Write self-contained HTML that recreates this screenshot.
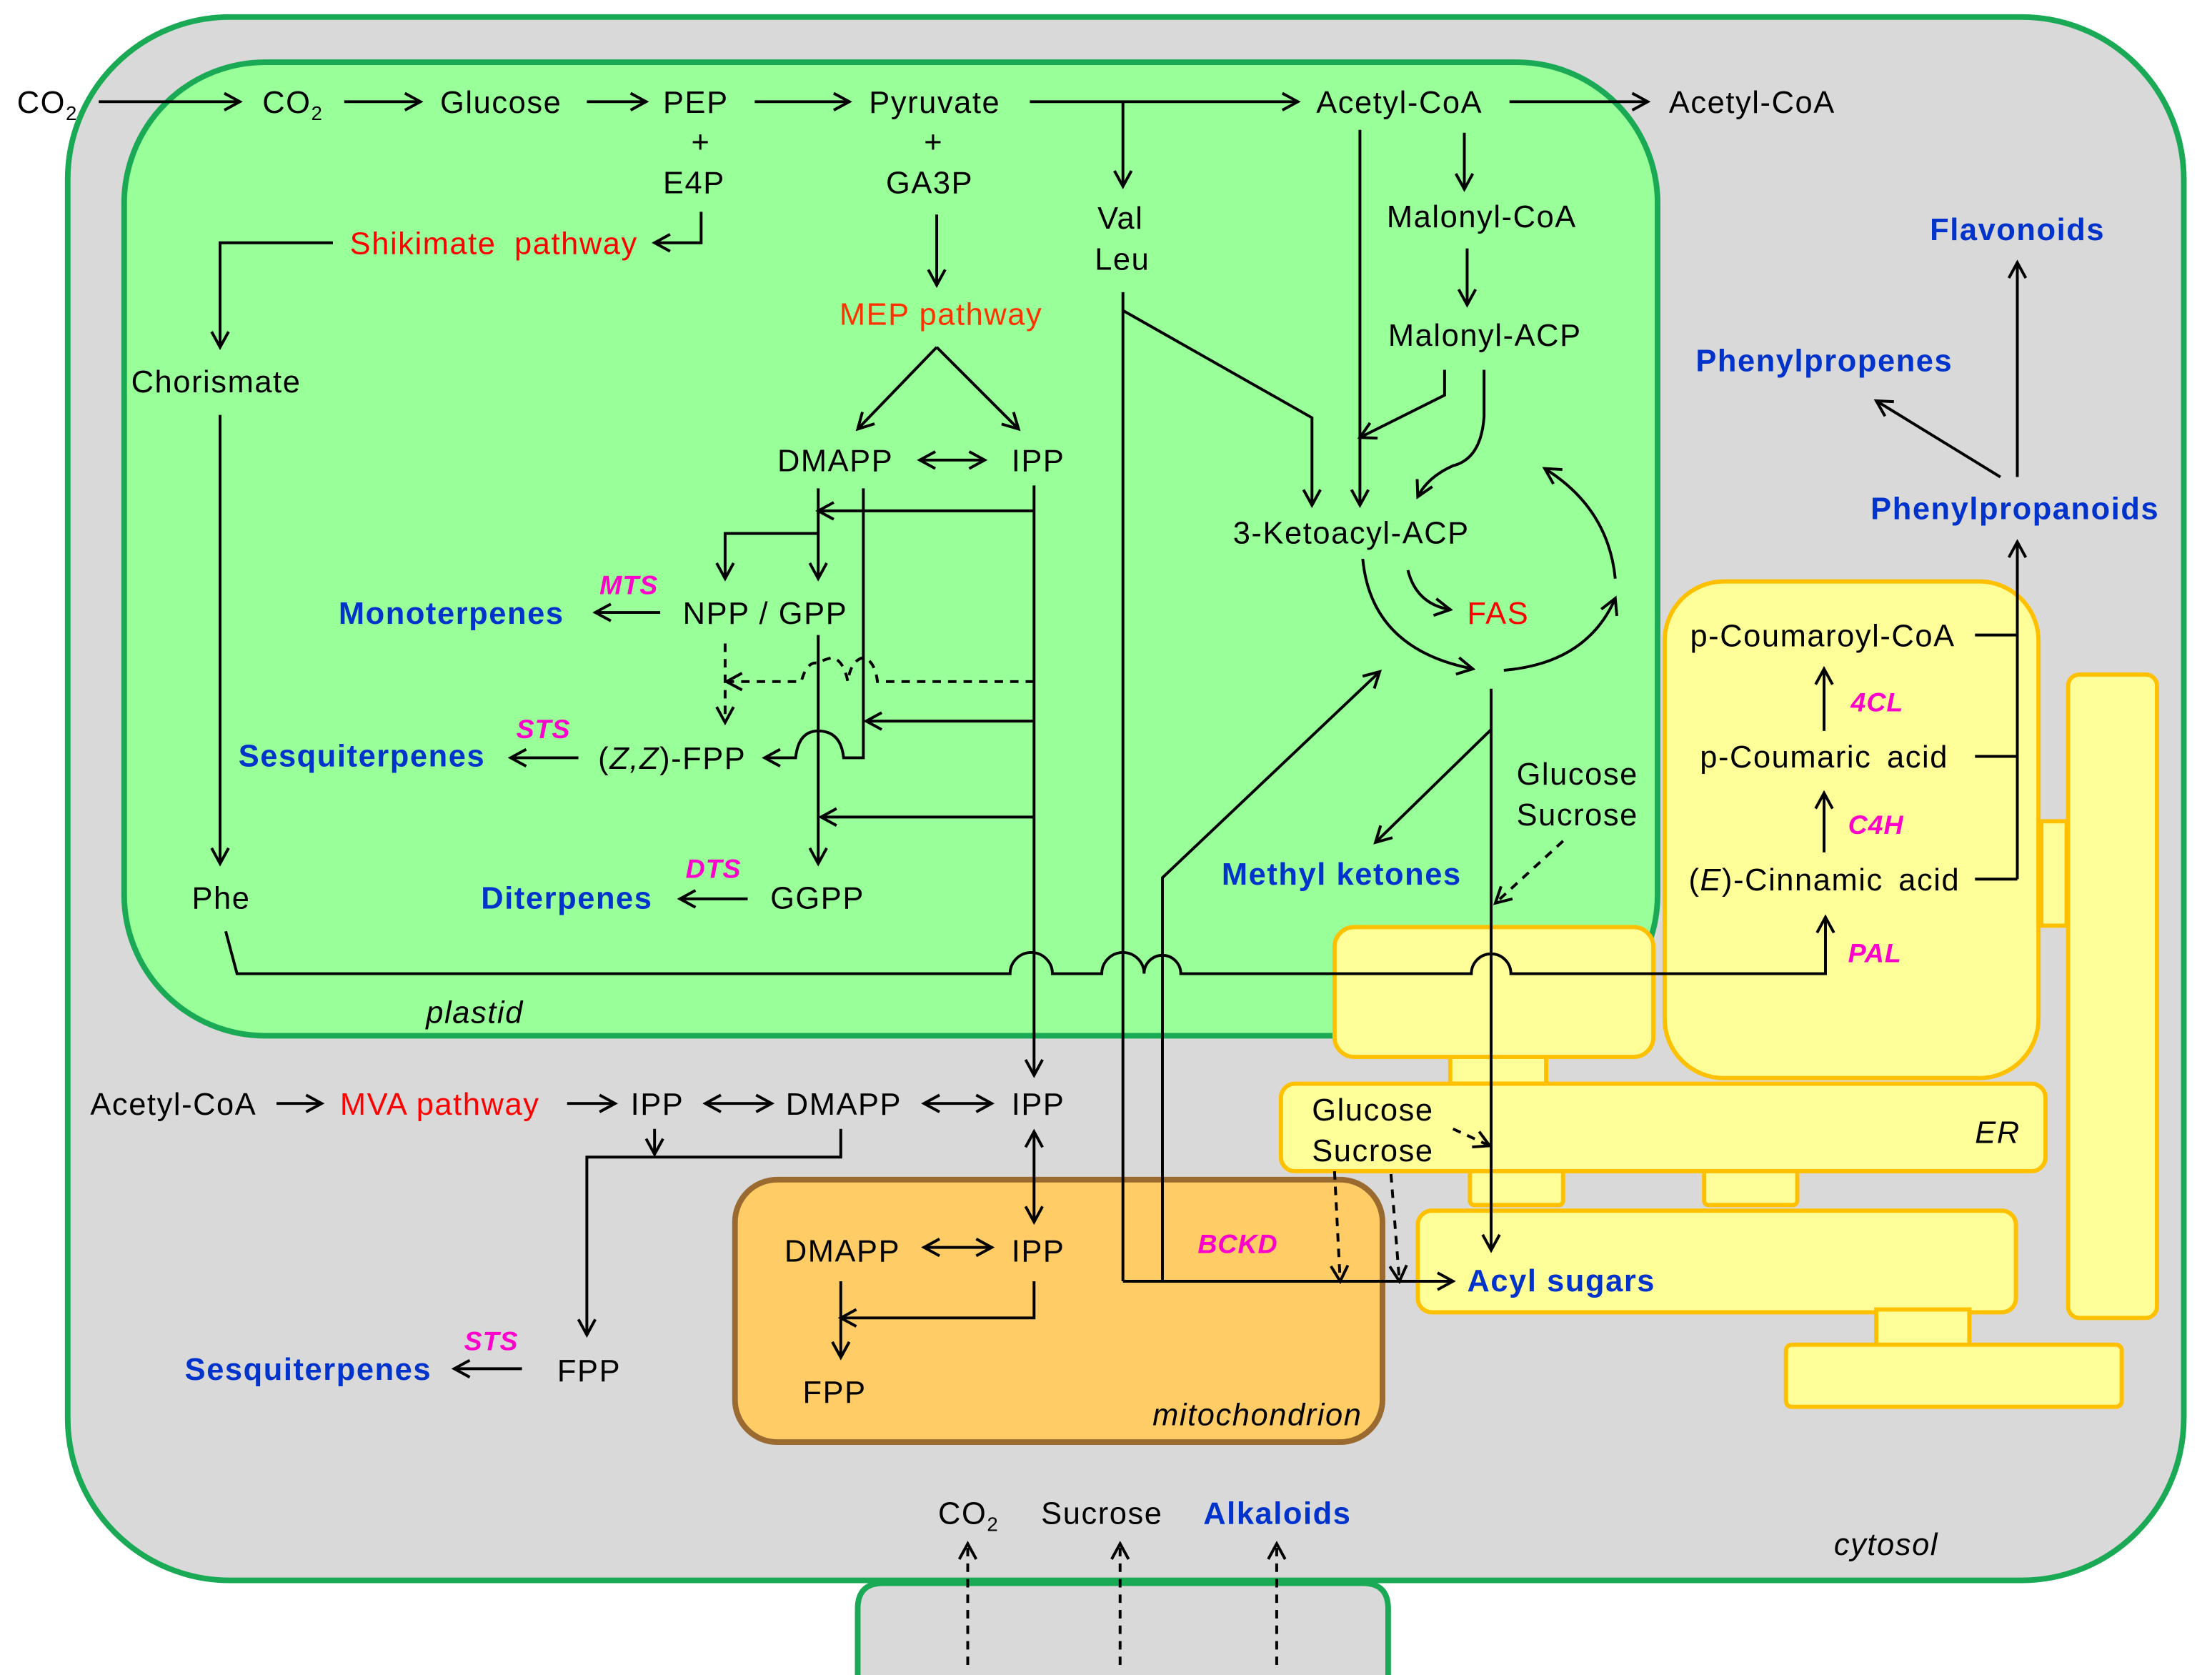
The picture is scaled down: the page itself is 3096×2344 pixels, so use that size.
<!DOCTYPE html>
<html><head><meta charset="utf-8"><style>
html,body{margin:0;padding:0;background:#fff;}
svg{display:block}
text{font-family:"Liberation Sans",Arial,sans-serif;font-size:22px;letter-spacing:0.8px;fill:#000}
.b{fill:#0033cc;font-weight:bold}
.r{fill:#ff0000}
.m{fill:#ff00cc;font-weight:bold;font-style:italic;font-size:19px;letter-spacing:0.5px}
.i{font-style:italic}
.l{stroke:#000;stroke-width:2;fill:none}
.d{stroke:#000;stroke-width:2;fill:none;stroke-dasharray:6,5}
.y{fill:#ffff99;stroke:#ffc000;stroke-width:3}
</style></head><body>
<svg width="3096" height="2344" viewBox="0 0 1568 1187" xmlns="http://www.w3.org/2000/svg">
<defs>
<marker id="a" markerWidth="14" markerHeight="14" refX="12" refY="7" orient="auto-start-reverse" markerUnits="userSpaceOnUse">
<path d="M1,1 L12,7 L1,13" fill="none" stroke="#000" stroke-width="2"/></marker>
</defs>
<rect width="1568" height="1187" fill="#fff"/>
<path d="M608,1200 V1140 Q608,1122 626,1122 H966 Q984,1122 984,1140 V1200" fill="#d9d9d9" stroke="#1aaa55" stroke-width="4"/>
<rect x="48" y="12" width="1500" height="1108" rx="115" fill="#d9d9d9" stroke="#1aaa55" stroke-width="4"/>
<rect x="88" y="44" width="1087" height="690" rx="100" fill="#99ff99" stroke="#1aaa55" stroke-width="4"/>
<rect x="521" y="836" width="459" height="186" rx="30" fill="#ffcc66" stroke="#9a6a30" stroke-width="4"/>
<rect class="y" x="1028" y="746" width="68" height="22"/>
<rect class="y" x="946" y="657" width="226" height="92" rx="14"/>
<rect class="y" x="1447" y="582" width="18" height="74"/>
<rect class="y" x="1180" y="412" width="265" height="352" rx="42"/>
<rect class="y" x="1042" y="828" width="66" height="26" rx="3"/>
<rect class="y" x="1208" y="828" width="66" height="26" rx="3"/>
<rect class="y" x="908" y="768" width="542" height="62" rx="10"/>
<rect class="y" x="1005" y="858" width="424" height="72" rx="10"/>
<rect class="y" x="1466" y="478" width="63" height="456" rx="8"/>
<rect class="y" x="1330" y="928" width="66" height="26"/>
<rect class="y" x="1266" y="953" width="238" height="44" rx="4"/>

<path class="l" d="M70,72 H170" marker-end="url(#a)"/>
<path class="l" d="M244,72 H298" marker-end="url(#a)"/>
<path class="l" d="M416,72 H458" marker-end="url(#a)"/>
<path class="l" d="M535,72 H602" marker-end="url(#a)"/>
<path class="l" d="M730,72 H920" marker-end="url(#a)"/>
<path class="l" d="M796,72 V132" marker-end="url(#a)"/>
<path class="l" d="M1070,72 H1168" marker-end="url(#a)"/>
<path class="l" d="M497,150 V172 H464" marker-end="url(#a)"/>
<path class="l" d="M236,172 H156 V246" marker-end="url(#a)"/>
<path class="l" d="M664,152 V202" marker-end="url(#a)"/>
<path class="l" d="M664,246 L608,304" marker-end="url(#a)"/>
<path class="l" d="M664,246 L722,304" marker-end="url(#a)"/>
<path class="l" d="M652,326 H698" marker-start="url(#a)" marker-end="url(#a)"/>
<path class="l" d="M1038,94 V134" marker-end="url(#a)"/>
<path class="l" d="M1040,176 V216" marker-end="url(#a)"/>
<path class="l" d="M964,92 V358" marker-end="url(#a)"/>
<path class="l" d="M796,207 V908"/>
<path class="l" d="M796,220 L930,296 V358" marker-end="url(#a)"/>
<path class="l" d="M1024,262 V280 L964,310" marker-end="url(#a)"/>
<path class="l" d="M1052,262 V295 Q1050,325 1030,330 Q1012,338 1005,352" marker-end="url(#a)"/>
<path class="l" d="M1145,410 Q1140,360 1095,332" marker-end="url(#a)"/>
<path class="l" d="M1066,475 Q1125,470 1145,424" marker-end="url(#a)"/>
<path class="l" d="M966,396 Q972,460 1044,474" marker-end="url(#a)"/>
<path class="l" d="M998,404 Q1004,428 1028,432" marker-end="url(#a)"/>
<path class="l" d="M1057,488 V886" marker-end="url(#a)"/>
<path class="l" d="M1057,517 L975,597" marker-end="url(#a)"/>
<path class="l" d="M824,908 V622 L978,476" marker-end="url(#a)"/>
<path class="d" d="M1108,596 L1060,640" marker-end="url(#a)"/>
<path class="l" d="M156,294 V612" marker-end="url(#a)"/>
<path class="l" d="M160,660 L168,690 H716 A15,15 0 0 1 746,690 H781 A15,15 0 0 1 811,690 A13,13 0 0 1 837,690 H1043 A14,14 0 0 1 1071,690 H1294 V650" marker-end="url(#a)"/>
<path class="l" d="M733,344 V762" marker-end="url(#a)"/>
<path class="l" d="M733,362 H580" marker-end="url(#a)"/>
<path class="l" d="M580,346 V410" marker-end="url(#a)"/>
<path class="l" d="M580,378 H514 V410" marker-end="url(#a)"/>
<path class="l" d="M612,346 V537 H598 Q596,518 580,518 Q566,518 564,537 H542" marker-end="url(#a)"/>
<path class="l" d="M580,450 V612" marker-end="url(#a)"/>
<path class="l" d="M733,511 H614" marker-end="url(#a)"/>
<path class="l" d="M733,579 H582" marker-end="url(#a)"/>
<path class="d" d="M733,483 H622 Q620,468 612,466 Q603,468 601,483 Q598,468 590,466 Q582,468 580,470 Q572,468 568,483 H515" marker-end="url(#a)"/>
<path class="d" d="M514,456 V512" marker-end="url(#a)"/>
<path class="l" d="M468,434 H422" marker-end="url(#a)"/>
<path class="l" d="M410,537 H362" marker-end="url(#a)"/>
<path class="l" d="M530,637 H482" marker-end="url(#a)"/>
<path class="l" d="M1430,338 V186" marker-end="url(#a)"/>
<path class="l" d="M1418,338 L1330,284" marker-end="url(#a)"/>
<path class="l" d="M1400,450 H1430 M1400,536 H1430 M1400,623 H1430"/>
<path class="l" d="M1430,623 V384" marker-end="url(#a)"/>
<path class="l" d="M1293,518 V474" marker-end="url(#a)"/>
<path class="l" d="M1293,604 V562" marker-end="url(#a)"/>
<path class="l" d="M196,782 H228" marker-end="url(#a)"/>
<path class="l" d="M402,782 H436" marker-end="url(#a)"/>
<path class="l" d="M500,782 H547" marker-start="url(#a)" marker-end="url(#a)"/>
<path class="l" d="M655,782 H703" marker-start="url(#a)" marker-end="url(#a)"/>
<path class="l" d="M733,802 V866" marker-start="url(#a)" marker-end="url(#a)"/>
<path class="l" d="M464,800 V818" marker-end="url(#a)"/>
<path class="l" d="M596,800 V820 H416 V946" marker-end="url(#a)"/>
<path class="l" d="M370,970 H322" marker-end="url(#a)"/>
<path class="l" d="M655,884 H703" marker-start="url(#a)" marker-end="url(#a)"/>
<path class="l" d="M596,908 V962" marker-end="url(#a)"/>
<path class="l" d="M733,908 V934 H596" marker-end="url(#a)"/>
<path class="l" d="M796,908 H1030" marker-end="url(#a)"/>
<path class="d" d="M946,830 L950,908" marker-end="url(#a)"/>
<path class="d" d="M986,832 L992,908" marker-end="url(#a)"/>
<path class="d" d="M1030,800 L1056,812" marker-end="url(#a)"/>
<path class="d" d="M686,1180 V1094" marker-end="url(#a)"/>
<path class="d" d="M794,1180 V1094" marker-end="url(#a)"/>
<path class="d" d="M905,1180 V1094" marker-end="url(#a)"/>

<text x="12" y="80">CO<tspan font-size="14" dy="5">2</tspan></text>
<text x="186" y="80">CO<tspan font-size="14" dy="5">2</tspan></text>
<text x="312" y="80">Glucose</text>
<text x="470" y="80">PEP</text>
<text x="490" y="108">+</text>
<text x="470" y="137">E4P</text>
<text x="616" y="80">Pyruvate</text>
<text x="655" y="108">+</text>
<text x="628" y="137">GA3P</text>
<text x="933" y="80">Acetyl-CoA</text>
<text x="1183" y="80">Acetyl-CoA</text>
<text x="778" y="162">Val</text>
<text x="776" y="191">Leu</text>
<text x="983" y="161">Malonyl-CoA</text>
<text x="984" y="245">Malonyl-ACP</text>
<text class="r" x="248" y="180" word-spacing="6">Shikimate pathway</text>
<text x="595" y="230" style="fill:#ff3300">MEP pathway</text>
<text x="93" y="278">Chorismate</text>
<text x="551" y="334">DMAPP</text>
<text x="717" y="334">IPP</text>
<text x="874" y="385">3-Ketoacyl-ACP</text>
<text class="r" x="1040" y="442">FAS</text>
<text class="m" x="425" y="421">MTS</text>
<text class="b" x="240" y="442">Monoterpenes</text>
<text x="484" y="442">NPP / GPP</text>
<text class="m" x="366" y="523">STS</text>
<text class="b" x="169" y="543">Sesquiterpenes</text>
<text x="424" y="545">(<tspan class="i">Z,Z</tspan>)-FPP</text>
<text class="m" x="486" y="622">DTS</text>
<text class="b" x="341" y="644">Diterpenes</text>
<text x="546" y="644">GGPP</text>
<text x="136" y="644">Phe</text>
<text class="b" x="866" y="627">Methyl ketones</text>
<text x="1075" y="556">Glucose</text>
<text x="1075" y="585">Sucrose</text>
<text class="i" x="302" y="725">plastid</text>
<text class="b" x="1368" y="170">Flavonoids</text>
<text class="b" x="1202" y="263">Phenylpropenes</text>
<text class="b" x="1326" y="368">Phenylpropanoids</text>
<text x="1198" y="458">p-Coumaroyl-CoA</text>
<text class="m" x="1312" y="504">4CL</text>
<text x="1205" y="544" word-spacing="4">p-Coumaric acid</text>
<text class="m" x="1310" y="591">C4H</text>
<text x="1197" y="631" word-spacing="4">(<tspan class="i">E</tspan>)-Cinnamic acid</text>
<text class="m" x="1310" y="682">PAL</text>
<text x="64" y="790">Acetyl-CoA</text>
<text class="r" x="241" y="790">MVA pathway</text>
<text x="447" y="790">IPP</text>
<text x="557" y="790">DMAPP</text>
<text x="717" y="790">IPP</text>
<text x="930" y="794">Glucose</text>
<text x="930" y="823">Sucrose</text>
<text class="i" x="1400" y="810">ER</text>
<text x="556" y="894">DMAPP</text>
<text x="717" y="894">IPP</text>
<text class="m" x="849" y="888">BCKD</text>
<text x="569" y="994">FPP</text>
<text class="i" x="817" y="1010">mitochondrion</text>
<text class="b" x="1040" y="915">Acyl sugars</text>
<text class="m" x="329" y="957">STS</text>
<text class="b" x="131" y="978">Sesquiterpenes</text>
<text x="395" y="979">FPP</text>
<text x="665" y="1080">CO<tspan font-size="14" dy="5">2</tspan></text>
<text x="738" y="1080">Sucrose</text>
<text class="b" x="853" y="1080">Alkaloids</text>
<text class="i" x="1300" y="1102">cytosol</text>
</svg>
</body></html>
